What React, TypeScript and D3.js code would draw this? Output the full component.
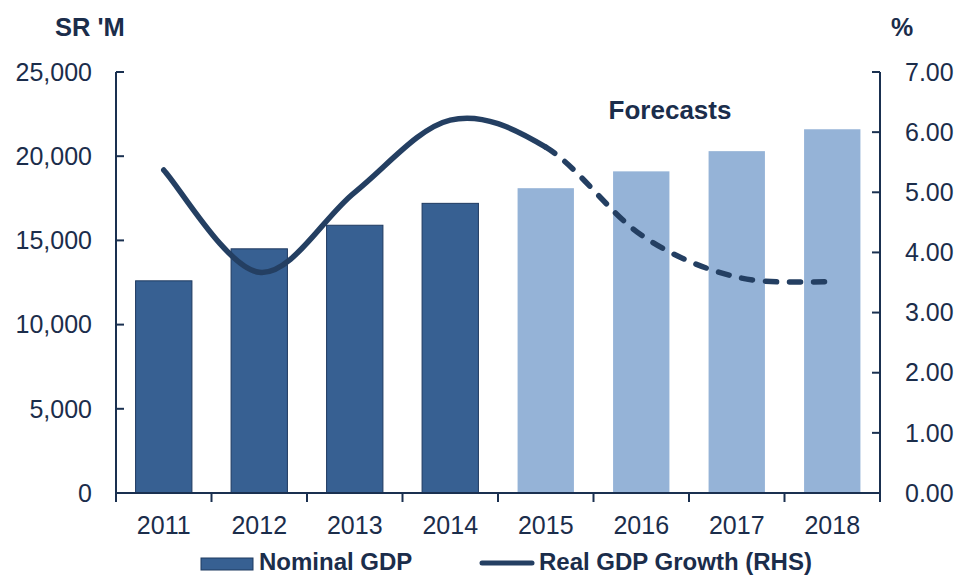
import React from 'react';
import * as d3 from 'd3';

const years = ['2011', '2012', '2013', '2014', '2015', '2016', '2017', '2018'];
const nominalGdp = [12600, 14500, 15900, 17200, 18100, 19100, 20300, 21600];
const realGdpGrowth = [5.37, 3.67, 5.0, 6.2, 5.75, 4.29, 3.59, 3.51];
const leftTicks = [0, 5000, 10000, 15000, 20000, 25000];
const rightTicks = [0, 1, 2, 3, 4, 5, 6, 7];
const firstForecastYear = '2015';

const W = 960, H = 575;
const M = { left: 116, right: 880, top: 72, bottom: 493 };
const FONT = '"Liberation Sans", Arial, sans-serif';
const TEXT = '#1b2d4b';
const AXIS = '#1a3050';
const DARK = '#376092';
const DARK_EDGE = '#1f3a60';
const LIGHT = '#95b3d7';
const LINE = '#243f62';

export default function App() {
  const x = d3.scaleBand<string>().domain(years).range([M.left, M.right]).paddingInner(0.41).paddingOuter(0.205);
  const yL = d3.scaleLinear().domain([0, 25000]).range([M.bottom, M.top]);
  const yR = d3.scaleLinear().domain([0, 7]).range([M.bottom, M.top]);
  const cx = (y: string) => (x(y) as number) + x.bandwidth() / 2;
  const fIdx = years.indexOf(firstForecastYear);

  const pts: [number, number][] = years.map((yr, i) => [cx(yr), yR(realGdpGrowth[i])]);
  // uniform Catmull-Rom (Excel-like smoothing) built with d3.path
  const seg = (from: number, to: number) => {
    const p = d3.path();
    p.moveTo(pts[from][0], pts[from][1]);
    for (let i = from; i < to; i++) {
      const p0 = pts[Math.max(i - 1, 0)], p1 = pts[i], p2 = pts[i + 1], p3 = pts[Math.min(i + 2, pts.length - 1)];
      p.bezierCurveTo(
        p1[0] + (p2[0] - p0[0]) / 6, p1[1] + (p2[1] - p0[1]) / 6,
        p2[0] - (p3[0] - p1[0]) / 6, p2[1] - (p3[1] - p1[1]) / 6,
        p2[0], p2[1]
      );
    }
    return p.toString();
  };
  const solidPath = seg(0, fIdx);
  const dashPath = seg(fIdx, pts.length - 1);
  const fmt = d3.format(',');

  return (
    <svg width={W} height={H} style={{ position: 'absolute', left: 0, top: 0, background: '#fff' }} fontFamily={FONT}>
      {/* bars */}
      {years.map((yr, i) => (
        <rect key={yr} x={x(yr)} y={yL(nominalGdp[i])} width={x.bandwidth()} height={M.bottom - yL(nominalGdp[i])}
          fill={i >= fIdx ? LIGHT : DARK} stroke={i >= fIdx ? 'none' : DARK_EDGE} strokeWidth={1} />
      ))}
      {/* line */}
      <path d={solidPath} fill="none" stroke={LINE} strokeWidth={5.5} strokeLinecap="round" />
      <path d={dashPath} fill="none" stroke={LINE} strokeWidth={5.5} strokeLinecap="round" strokeDasharray="11,13" />

      {/* left axis */}
      <line x1={M.left} x2={M.left} y1={M.top} y2={M.bottom} stroke={AXIS} strokeWidth={2} />
      {leftTicks.map(t => (
        <g key={t}>
          <line x1={M.left} x2={M.left + 8} y1={yL(t)} y2={yL(t)} stroke={AXIS} strokeWidth={2} />
          <text x={92} y={yL(t)} dy="0.35em" textAnchor="end" fontSize={25} fill={TEXT}>{fmt(t)}</text>
        </g>
      ))}
      {/* right axis */}
      <line x1={M.right} x2={M.right} y1={M.top} y2={M.bottom + 9} stroke={AXIS} strokeWidth={2} />
      {rightTicks.map(t => (
        <g key={t}>
          <line x1={M.right - 8} x2={M.right} y1={yR(t)} y2={yR(t)} stroke={AXIS} strokeWidth={2} />
          <text x={905} y={yR(t)} dy="0.35em" textAnchor="start" fontSize={25} fill={TEXT}>{t.toFixed(2)}</text>
        </g>
      ))}
      {/* bottom axis */}
      <line x1={M.left} x2={M.right} y1={M.bottom} y2={M.bottom} stroke={AXIS} strokeWidth={2} />
      {years.map((yr, i) => (
        <line key={'t' + yr} x1={x.step() * i + M.left} x2={x.step() * i + M.left} y1={M.bottom} y2={M.bottom + 9} stroke={AXIS} strokeWidth={2} />
      ))}
      {years.map(yr => (
        <text key={'l' + yr} x={cx(yr)} y={534} textAnchor="middle" fontSize={25} fill={TEXT}>{yr}</text>
      ))}

      {/* titles */}
      <text x={55} y={36} fontSize={25.5} fontWeight="bold" fill={TEXT}>SR 'M</text>
      <text x={891} y={36} fontSize={25} fontWeight="bold" fill={TEXT}>%</text>
      <text x={670} y={119} textAnchor="middle" fontSize={26} fontWeight="bold" fill={TEXT}>Forecasts</text>

      {/* legend */}
      <rect x={201} y={558} width={52} height={12} fill={DARK} stroke={DARK_EDGE} strokeWidth={1} />
      <text x={259} y={570} fontSize={24} fontWeight="bold" fill={TEXT}>Nominal GDP</text>
      <line x1={482} x2={532} y1={563} y2={563} stroke={LINE} strokeWidth={5} strokeLinecap="round" />
      <text x={539} y={570} fontSize={24} fontWeight="bold" fill={TEXT}>Real GDP Growth (RHS)</text>
    </svg>
  );
}
